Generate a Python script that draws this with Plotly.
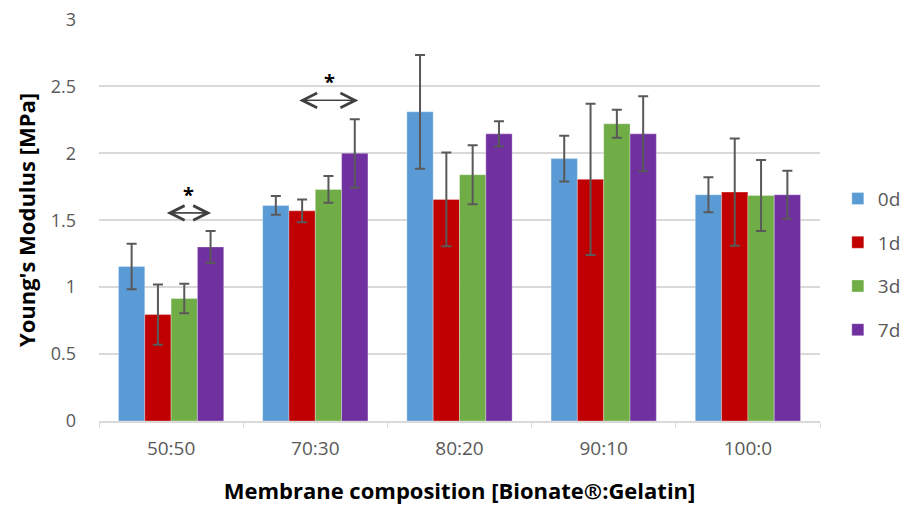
import plotly.graph_objects as go

categories = ["50:50", "70:30", "80:20", "90:10", "100:0"]
series_names = ["0d", "1d", "3d", "7d"]
values_0d = [1.155, 1.61, 2.31, 1.96, 1.69]
values_1d = [0.795, 1.57, 1.655, 1.805, 1.71]
values_3d = [0.915, 1.73, 1.84, 2.22, 1.685]
values_7d = [1.30, 2.00, 2.145, 2.145, 1.69]
err_0d = [0.17, 0.07, 0.425, 0.17, 0.13]
err_1d = [0.225, 0.085, 0.35, 0.565, 0.40]
err_3d = [0.11, 0.10, 0.22, 0.105, 0.265]
err_7d = [0.12, 0.255, 0.095, 0.28, 0.18]
colors = ["#5B9BD5", "#C00000", "#70AD47", "#7030A0"]
y_ticks = [0, 0.5, 1, 1.5, 2, 2.5, 3]

all_vals = [values_0d, values_1d, values_3d, values_7d]
all_errs = [err_0d, err_1d, err_3d, err_7d]

FONT = "Open Sans"

fig = go.Figure()
for i, name in enumerate(series_names):
    fig.add_trace(go.Bar(
        x=categories, y=all_vals[i], name=name,
        marker=dict(color=colors[i], line=dict(width=0.6, color="rgba(255,255,255,0.5)")),
        error_y=dict(type="data", array=all_errs[i], visible=True,
                     color="#595959", thickness=2, width=5),
        legendgroup=name,
    ))

# significance markers (arrow positions in category index units)
sig = [
    dict(x0=-0.03, x1=0.277, y=1.554, star_x=0.124, star_y=1.695),
    dict(x0=0.889, x1=1.298, y=2.395, star_x=1.095, star_y=2.535),
]
for s in sig:
    for xa, xb in [(s["x0"], s["x1"]), (s["x1"], s["x0"])]:
        fig.add_annotation(x=xa, y=s["y"], ax=xb, ay=s["y"], xref="x", yref="y",
                           axref="x", ayref="y", text="", showarrow=True,
                           arrowhead=5, arrowsize=2.4, arrowwidth=1.2,
                           arrowcolor="#404040", standoff=0, startstandoff=0)
    fig.add_annotation(x=s["star_x"], y=s["star_y"], xref="x", yref="y", text="<b>*</b>",
                       showarrow=False, font=dict(size=20, color="#000000", family=FONT))

fig.update_layout(
    width=901, height=497,
    margin=dict(l=91, r=89, t=11, b=84, autoexpand=False),
    paper_bgcolor="white", plot_bgcolor="white",
    barmode="group", bargap=0.27, bargroupgap=0,
    font=dict(family=FONT, color="#595959", size=18),
    legend=dict(xref="container", x=0.921, y=0.39, xanchor="left", yanchor="middle",
                font=dict(size=19, color="#595959", family=FONT),
                tracegroupgap=16, itemwidth=30),
    showlegend=True,
)
fig.update_xaxes(
    type="category", showgrid=False, showline=True, linecolor="#d9d9d9", linewidth=1.5,
    ticks="outside", tickson="boundaries", ticklen=5, tickcolor="#d9d9d9",
    tickfont=dict(size=19, color="#595959", family=FONT), ticklabelstandoff=9,
    automargin=False,
    title=dict(text="<b>Membrane composition [Bionate®:Gelatin]</b>", standoff=24,
               font=dict(size=22, color="#000000", family=FONT)),
)
fig.update_yaxes(
    range=[0, 3.003], tickvals=y_ticks, ticktext=[f"{v:g}" for v in y_ticks],
    showgrid=True, gridcolor="#d9d9d9", gridwidth=1.5, zeroline=False,
    showline=False, tickfont=dict(size=18, color="#595959", family=FONT),
    ticklabelstandoff=22, ticklabeloverflow="allow", automargin=False,
    title=dict(text="<b>Young's Modulus [MPa]</b>", standoff=8,
               font=dict(size=22, color="#000000", family=FONT)),
)

fig.write_html("out.html")
